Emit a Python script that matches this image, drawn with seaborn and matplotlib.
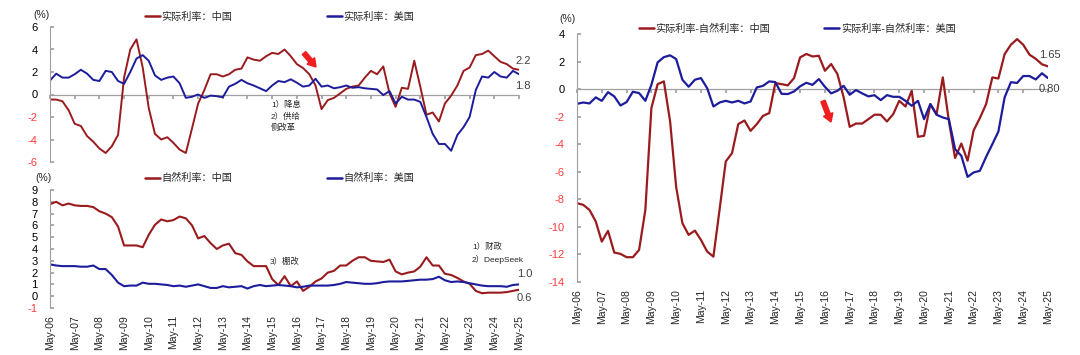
import pandas as pd
import matplotlib
matplotlib.use("Agg")
import matplotlib.pyplot as plt
import matplotlib.dates as mdates
import matplotlib.transforms as mtrans
from matplotlib.lines import Line2D
from matplotlib.patches import FancyArrow
import seaborn as sns

sns.set_theme(style="white")
plt.rcParams['font.family'] = ['Liberation Sans', 'Noto Sans CJK SC']
plt.rcParams['axes.unicode_minus'] = False

W, H = 1080, 355
RED = '#9A1B1E'
BLUE = '#1C1C9C'
NEG = '#FF3B3B'
GREY = '#A0A0A0'

# quarterly readings, May-06 .. May-25 (one row per year)
cn_real = [-0.45, -0.45, -0.6, -1.4,
           -2.6, -2.8, -3.7, -4.2,
           -4.8, -5.2, -4.6, -3.6,
           1.5, 4.0, 4.9, 2.4,
           -1.2, -3.5, -4.0, -3.8,
           -4.3, -4.9, -5.2, -3.0,
           -0.8, 0.4, 1.8, 1.8,
           1.6, 1.8, 2.2, 2.3,
           3.3, 3.1, 3.0, 3.4,
           3.7, 3.6, 4.0, 3.4,
           2.7, 2.35, 1.8, 0.8,
           -1.3, -0.5, -0.3, 0.1,
           0.5, 0.7, 0.8, 1.5,
           2.1, 1.8, 2.5, 0.1,
           -1.1, 0.6, 0.5, 3.0,
           0.7, -1.8, -1.6, -2.4,
           -0.8, -0.1, 0.8, 2.1,
           2.4, 3.5, 3.6, 3.9,
           3.4, 2.9, 2.7, 2.3,
           2.2]
us_real = [1.25, 1.85, 1.5, 1.5,
           1.8, 2.2, 1.85, 1.3,
           1.2, 2.1, 2.0, 1.2,
           0.95, 2.0, 3.2, 3.5,
           3.0, 1.7, 1.3, 1.5,
           1.6, 1.0, -0.3, -0.2,
           0.0, -0.3, -0.1, -0.15,
           -0.25, 0.7, 0.95, 1.3,
           1.0, 0.8, 0.55, 0.3,
           0.8, 1.2, 1.1, 1.35,
           1.05, 0.7, 0.8, 1.4,
           0.7, 0.8, 0.55, 0.65,
           0.8, 0.6, 0.65, 0.55,
           0.5, 0.45, -0.05, 0.3,
           -0.8, -0.2, -0.45, -0.45,
           -0.65, -2.0, -3.5, -4.4,
           -4.4, -5.0, -3.6, -2.9,
           -2.0, 0.4, 1.6, 1.5,
           2.0, 1.6, 1.5, 2.1,
           1.8]
cn_natural = [7.8, 8.0, 7.7, 7.85,
              7.7, 7.65, 7.65, 7.55,
              7.2, 7.0, 6.7, 5.9,
              4.3, 4.3, 4.3, 4.15,
              5.2, 6.05, 6.5, 6.35,
              6.45, 6.75, 6.6, 6.0,
              4.9, 5.1, 4.5, 4.0,
              4.3, 4.45, 3.65, 3.5,
              2.95, 2.55, 2.55, 2.55,
              1.45, 0.95, 1.7, 0.85,
              1.25, 0.45, 0.8, 1.25,
              1.5, 2.0, 2.15, 2.6,
              2.6, 3.0, 3.3, 3.3,
              3.0, 2.95, 2.9, 3.1,
              2.1, 1.85, 2.0, 2.1,
              2.5, 3.3, 2.6, 2.6,
              1.9, 1.8, 1.55, 1.25,
              1.05, 0.45, 0.25, 0.3,
              0.3, 0.3, 0.35, 0.45,
              0.55]
us_natural = [2.7, 2.6, 2.55, 2.55,
              2.55, 2.5, 2.5, 2.6,
              2.3, 2.3, 1.8, 1.15,
              0.85, 0.9, 0.9, 1.15,
              1.05, 1.05, 1.0, 0.95,
              0.85, 0.9, 0.8, 0.9,
              1.0, 0.85, 0.7, 0.7,
              0.85, 0.75, 0.8, 0.85,
              0.65, 0.85, 0.95, 0.85,
              0.9, 0.95, 0.9, 0.85,
              0.75, 0.8, 0.9, 0.9,
              0.9, 0.9, 0.95, 1.05,
              1.2, 1.15, 1.1, 1.05,
              1.05, 1.1, 1.2, 1.25,
              1.25, 1.25, 1.3, 1.35,
              1.4, 1.4, 1.45, 1.65,
              1.35, 1.2, 1.25, 1.2,
              1.1, 1.0, 0.9, 0.85,
              0.85, 0.85, 0.8, 0.95,
              1.0]
cn_gap = [-8.28, -8.4, -8.77, -9.6,
          -11.07, -10.29, -11.86, -11.96,
          -12.2, -12.2, -11.67, -8.77,
          -1.38, 0.36, 0.56, -2.35,
          -7.1, -9.73, -10.58, -10.27,
          -10.94, -11.79, -12.16, -8.7,
          -5.25, -4.65, -2.54, -2.28,
          -3.03, -2.54, -1.94, -1.74,
          0.44, 0.36, 0.27, 0.8,
          2.3, 2.55, 2.37, 2.42,
          1.33, 1.82, 1.09, -0.6,
          -2.74, -2.5, -2.5, -2.18,
          -1.86, -1.86, -2.35, -1.82,
          -0.85, -1.26, -0.12, -3.46,
          -3.39, -1.09, -1.82, 0.85,
          -2.3, -5.0, -3.95, -5.2,
          -3.0, -2.1, -1.09, 0.85,
          0.77, 2.54, 3.22, 3.63,
          3.22, 2.5, 2.2, 1.8,
          1.65]
us_gap = [-1.07, -0.97, -1.04, -0.6,
          -0.85, -0.22, -0.53, -1.19,
          -0.94, -0.19, -0.29, -0.85,
          0.31, 1.94, 2.32, 2.45,
          2.18, 0.68, 0.17, 0.68,
          0.8, 0.07, -1.26, -0.97,
          -0.85, -0.97, -0.85, -1.04,
          -0.9, 0.12, 0.24, 0.56,
          0.51, -0.34, -0.36, -0.17,
          0.2, 0.46, 0.31, 0.73,
          0.17, -0.31, -0.12, 0.24,
          -0.41, -0.07, -0.31, -0.53,
          -0.44, -0.8, -0.44, -0.56,
          -0.56, -0.85, -1.21, -0.85,
          -2.18, -1.09, -1.86, -2.06,
          -2.18, -4.36, -4.84, -6.37,
          -6.05, -5.93, -4.92, -4.0,
          -3.08, -0.6, 0.5, 0.45,
          0.95, 0.95, 0.7, 1.15,
          0.8]

tick_years = list(range(2006, 2026))
tick_labels = ['May-%02d' % (y % 100) for y in tick_years]

dates = pd.date_range('2006-05-01', periods=len(cn_real), freq='3MS')
ticks = pd.to_datetime(['%d-05-01' % y for y in tick_years])


def fx(px):
    return px / W


def fy(py):
    return 1 - py / H


def box(x0, x1, y0, y1):
    return [fx(x0), fy(y1), fx(x1) - fx(x0), fy(y0) - fy(y1)]


fig = plt.figure(figsize=(W / 100, H / 100), dpi=100)
ax1 = fig.add_axes(box(50, 519, 27, 162))
ax2 = fig.add_axes(box(50, 519, 190, 308))
ax3 = fig.add_axes(box(577, 1048, 34, 282))


def style(ax, ylim, yticks, zero_frac, show_x, ypad):
    ax.set_xlim(dates[0], dates[-1])
    ax.set_ylim(*ylim)
    ax.set_yticks(yticks)
    ax.set_yticklabels([str(v) for v in yticks])
    for lbl, v in zip(ax.get_yticklabels(), yticks):
        lbl.set_color(NEG if v < 0 else 'black')
    for s in ['top', 'right', 'bottom']:
        ax.spines[s].set_visible(False)
    ax.spines['left'].set_color(GREY)
    ax.spines['left'].set_linewidth(0.8)
    ax.tick_params(axis='y', left=True, direction='in', length=3, color=GREY,
                   pad=ypad, labelsize=8)
    ax.set_xticks(ticks)
    if show_x:
        ax.set_xticklabels(tick_labels, rotation=90)
        ax.tick_params(axis='x', length=0, pad=5, labelsize=7.5)
    else:
        ax.set_xticklabels([])
        ax.tick_params(axis='x', length=0)
    ax.set_xlabel('')
    ax.set_ylabel('')
    if zero_frac is not None:
        ax.axhline(0, color=GREY, lw=0.9, zorder=1)
        sec = ax.secondary_xaxis(zero_frac)
        sec.set_alignment('bottom')
        sec.set_xticks(mdates.date2num(ticks))
        sec.set_xticklabels([])
        sec.tick_params(axis='x', direction='out', length=3, color=GREY)
        for s in sec.spines.values():
            s.set_visible(False)


def legend(ax, labels, x_px, y_px, spacing):
    h = [Line2D([], [], color=RED, lw=1.8), Line2D([], [], color=BLUE, lw=1.8)]
    ax.legend(h, labels, loc='center left', bbox_to_anchor=(fx(x_px), fy(y_px)),
              bbox_transform=fig.transFigure, ncol=2, frameon=False, fontsize=7.3,
              handlelength=1.5, handletextpad=0.15, columnspacing=spacing,
              borderpad=0, borderaxespad=0)


# top-left: real rates
sns.lineplot(x=dates, y=cn_real, ax=ax1, color=RED, linewidth=1.4)
sns.lineplot(x=dates, y=us_real, ax=ax1, color=BLUE, linewidth=1.4)
style(ax1, (-6, 6), list(range(-6, 7, 2)), 0.5, False, 9)
legend(ax1, ['实际利率：中国', '实际利率：美国'], 145, 17, 9.3)

# bottom-left: natural rates
sns.lineplot(x=dates, y=cn_natural, ax=ax2, color=RED, linewidth=1.5)
sns.lineplot(x=dates, y=us_natural, ax=ax2, color=BLUE, linewidth=1.5)
style(ax2, (-1, 9), list(range(-1, 10)), None, True, 9)
legend(ax2, ['自然利率：中国', '自然利率：美国'], 145, 178, 9.3)

# right: real minus natural
sns.lineplot(x=dates, y=cn_gap, ax=ax3, color=RED, linewidth=1.6)
sns.lineplot(x=dates, y=us_gap, ax=ax3, color=BLUE, linewidth=1.6)
style(ax3, (-14, 4), list(range(-14, 5, 2)), 14 / 18, True, 9)
legend(ax3, ['实际利率-自然利率：中国', '实际利率-自然利率：美国'], 639, 28.5, 5.3)


def note(x_px, y_px, s, **kw):
    kw.setdefault('fontsize', 7.5)
    kw.setdefault('va', 'center')
    fig.text(fx(x_px), fy(y_px), s, **kw)


note(41, 15, '(%)', ha='center')
note(43, 178, '(%)', ha='center')
note(568, 19, '(%)', ha='center')

note(515, 61, '2.2', color='#404040', fontsize=8)
note(515, 86, '1.8', color='#404040', fontsize=8)
note(517, 274, '1.0', color='#404040', fontsize=8)
note(517, 298, '0.6', color='#404040', fontsize=8)
note(1039, 55, '1.65', color='#404040', fontsize=8)
note(1039, 89, '0.80', color='#404040', fontsize=8)

note(271, 105, '1）降息', fontsize=6)
note(271, 116.5, '2）供给', fontsize=6)
note(271, 128, '侧改革', fontsize=6)
note(270, 262, '3）棚改', fontsize=6)
note(472, 247, '1）财政', fontsize=6)
note(472, 259, '2）DeepSeek', fontsize=6)

# red arrows (pixel coordinates, origin bottom-left)
for x0, y0, x1, y1 in [(304, H - 53, 316, H - 67), (823, H - 101, 831, H - 122)]:
    arr = FancyArrow(x0, y0, x1 - x0, y1 - y0, width=4.5, head_width=10,
                     head_length=8, length_includes_head=True, color='#F01E1E',
                     transform=mtrans.IdentityTransform())
    fig.add_artist(arr)

fig.savefig('out.png', dpi=100)
